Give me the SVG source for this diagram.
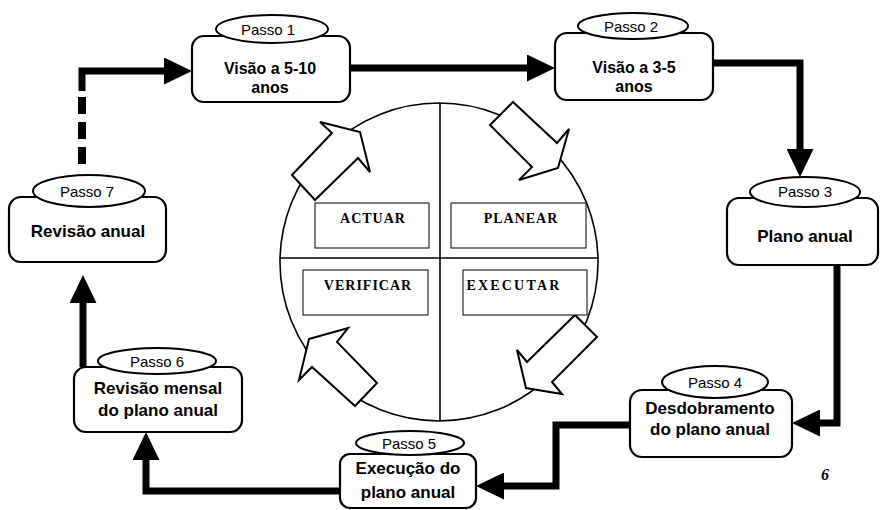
<svg xmlns="http://www.w3.org/2000/svg" width="880" height="510" viewBox="0 0 880 510">
  <style>
    .box { fill: #fff; stroke: #000; stroke-width: 2.2; }
    .tag { fill: #fff; stroke: #000; stroke-width: 2; }
    .tagt { font-family: "Liberation Sans", Arial, sans-serif; font-size: 15px; text-anchor: middle; fill: #000; }
    .bt { font-family: "Liberation Sans", Arial, sans-serif; font-size: 17px; font-weight: bold; text-anchor: middle; fill: #000; }
    .bt2 { font-size: 16px; }
    .flow { fill: none; stroke: #000; stroke-width: 7; stroke-linejoin: miter; }
    .dash { fill: none; stroke: #000; stroke-width: 8; stroke-dasharray: 17 8; }
    .cyc { fill: #fff; stroke: #000; stroke-width: 1.6; }
    .hollow { fill: #fff; stroke: #000; stroke-width: 2; stroke-linejoin: miter; }
    .lbl { fill: #fff; stroke: #000; stroke-width: 1; }
    .lt { font-family: "Liberation Serif", "Times New Roman", serif; font-size: 14px; font-weight: bold; text-anchor: middle; letter-spacing: 1px; fill: #000; }
  </style>
  <defs>
    <marker id="head" viewBox="0 0 28 27" refX="1" refY="13.5" markerWidth="28" markerHeight="27" markerUnits="userSpaceOnUse" orient="auto">
      <path d="M0,0 L28,13.5 L0,27 z" fill="#000"/>
    </marker>
  </defs>

  <!-- PDCA wheel -->
  <g id="cycle">
    <circle class="cyc" cx="439" cy="262" r="159"/>
    <line x1="440" y1="103" x2="440" y2="421" stroke="#000" stroke-width="1.6"/>
    <line x1="280" y1="258" x2="598" y2="258" stroke="#000" stroke-width="1.6"/>
    <polygon class="hollow" points="292,175 332,133 320,122 360,132 370,172 358,158 315,200"/>
    <polygon class="hollow" points="490,125 513,102 557,143 569,129 558,168 519,180 532,167"/>
    <polygon class="hollow" points="309,339 348,328 337,342 377,383 355,406 312,367 299,380"/>
    <polygon class="hollow" points="575,315 597,337 552,382 562,394 526,388 517,350 527,362"/>
  </g>
  <g id="actuar">
    <rect class="lbl" x="315" y="203" width="114" height="45"/>
    <text class="lt" x="373" y="223">ACTUAR</text>
  </g>
  <g id="planear">
    <rect class="lbl" x="451" y="203" width="135" height="45"/>
    <text class="lt" x="521" y="223">PLANEAR</text>
  </g>
  <g id="verificar">
    <rect class="lbl" x="303" y="270" width="125" height="45"/>
    <text class="lt" x="368" y="290">VERIFICAR</text>
  </g>
  <g id="executar">
    <rect class="lbl" x="463" y="270" width="124" height="45"/>
    <text class="lt" x="514" y="290" style="letter-spacing:2.2px">EXECUTAR</text>
  </g>

  <!-- flow between the steps -->
  <g id="connectors">
    <path class="dash" d="M82,164 V89"/>
    <path class="flow" d="M82,91 V71 H165" marker-end="url(#head)"/>
    <path class="flow" d="M350,68 H528" marker-end="url(#head)"/>
    <path class="flow" d="M713,63 H800 V150" marker-end="url(#head)"/>
    <path class="flow" d="M837,265 V423 H819" marker-end="url(#head)"/>
    <path class="flow" d="M630,425 H556 V486 H503" marker-end="url(#head)"/>
    <path class="flow" d="M340,491 H146 V459" marker-end="url(#head)"/>
    <path class="flow" d="M83,367 V302" marker-end="url(#head)"/>
  </g>

  <g id="passo1">
    <rect class="box" x="192" y="36" width="158" height="66" rx="12"/>
    <ellipse class="tag" cx="272" cy="29" rx="56" ry="14"/>
    <text class="tagt" x="268" y="35">Passo 1</text>
    <text class="bt bt2" x="270" y="74">Visão a 5-10</text>
    <text class="bt bt2" x="270" y="93">anos</text>
  </g>
  <g id="passo2">
    <rect class="box" x="555" y="33" width="158" height="67" rx="12"/>
    <ellipse class="tag" cx="633" cy="26" rx="55" ry="13"/>
    <text class="tagt" x="631" y="32">Passo 2</text>
    <text class="bt bt2" x="634" y="73">Visão a 3-5</text>
    <text class="bt bt2" x="634" y="92">anos</text>
  </g>
  <g id="passo3">
    <rect class="box" x="727" y="198" width="151" height="67" rx="12"/>
    <ellipse class="tag" cx="805" cy="192" rx="55" ry="15"/>
    <text class="tagt" x="805" y="197">Passo 3</text>
    <text class="bt" x="805" y="242">Plano anual</text>
  </g>
  <g id="passo4">
    <rect class="box" x="630" y="390" width="162" height="67" rx="12"/>
    <ellipse class="tag" cx="715" cy="382" rx="53" ry="16"/>
    <text class="tagt" x="715" y="388">Passo 4</text>
    <text class="bt" x="710" y="414">Desdobramento</text>
    <text class="bt" x="710" y="435">do plano anual</text>
  </g>
  <g id="passo5">
    <rect class="box" x="340" y="454" width="136" height="54" rx="10"/>
    <ellipse class="tag" cx="410" cy="443" rx="54" ry="12"/>
    <text class="tagt" x="409" y="449">Passo 5</text>
    <text class="bt" x="408" y="474">Execução do</text>
    <text class="bt" x="408" y="498">plano anual</text>
  </g>
  <g id="passo6">
    <rect class="box" x="74" y="367" width="168" height="65" rx="12"/>
    <ellipse class="tag" cx="157" cy="361" rx="59" ry="13"/>
    <text class="tagt" x="157" y="367">Passo 6</text>
    <text class="bt" x="158" y="394">Revisão mensal</text>
    <text class="bt" x="158" y="416">do plano anual</text>
  </g>
  <g id="passo7">
    <rect class="box" x="9" y="197" width="157" height="65" rx="12"/>
    <ellipse class="tag" cx="89" cy="191" rx="56" ry="16"/>
    <text class="tagt" x="87" y="197">Passo 7</text>
    <text class="bt" x="88" y="237">Revisão anual</text>
  </g>

  <text x="825" y="480" font-family="Liberation Serif, 'Times New Roman', serif" font-size="16" font-style="italic" font-weight="bold" text-anchor="middle">6</text>
</svg>
